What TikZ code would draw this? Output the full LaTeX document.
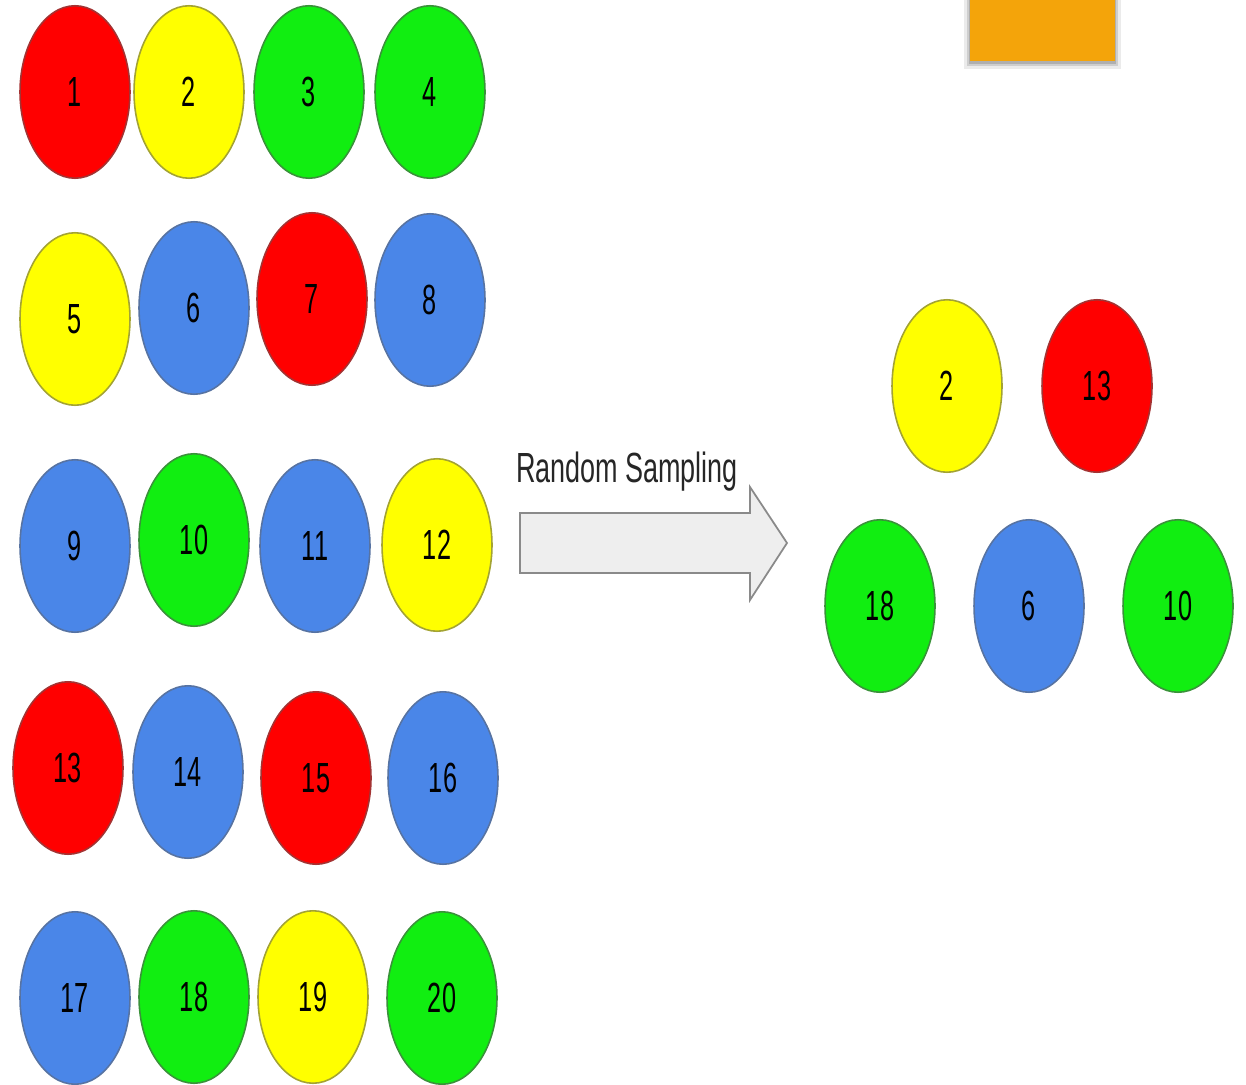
\documentclass[tikz,border=0pt]{standalone}
\usepackage{fontspec}
\setmainfont{Liberation Sans}
\usetikzlibrary{shapes.geometric, shadows}
\definecolor{ballred}{HTML}{FF0000}
\definecolor{ballyellow}{HTML}{FFFF00}
\definecolor{ballgreen}{HTML}{11EE11}
\definecolor{ballblue}{HTML}{4A86E8}
\definecolor{boxorange}{HTML}{F4A40A}
\definecolor{arrowfill}{HTML}{EEEEEE}
\definecolor{arrowstroke}{HTML}{8A8A8A}
\newcommand{\bn}[1]{\scalebox{0.6}[1]{#1}}

\begin{document}
\begin{tikzpicture}[
    x=0.02cm, y=-0.02cm,
    every node/.style={font=\fontsize{24}{24}\selectfont},
    ball/.style={ellipse, minimum width=2.2cm, minimum height=3.45cm, inner sep=0pt, line width=0.9pt},
    red/.style={ball, fill=ballred, draw=ballred!55!black!80},
    yel/.style={ball, fill=ballyellow, draw=ballyellow!55!black!80},
    grn/.style={ball, fill=ballgreen, draw=ballgreen!50!black!80},
    blu/.style={ball, fill=ballblue, draw=ballblue!60!black!80},
    bigarrow/.style={fill=arrowfill, draw=arrowstroke, line width=1pt, line join=miter}
]
\useasboundingbox (0,0) rectangle (1246,1084);

% Population, row 1
\node[red] (p1) at (75, 92) {\bn{1}};
\node[yel] (p2) at (189, 92) {\bn{2}};
\node[grn] (p3) at (309, 92) {\bn{3}};
\node[grn] (p4) at (430, 92) {\bn{4}};

% Population, row 2
\node[yel] (p5) at (75, 319) {\bn{5}};
\node[blu] (p6) at (194, 308) {\bn{6}};
\node[red] (p7) at (312, 299) {\bn{7}};
\node[blu] (p8) at (430, 300) {\bn{8}};

% Population, row 3
\node[blu] (p9) at (75, 546) {\bn{9}};
\node[grn] (p10) at (194, 540) {\bn{10}};
\node[blu] (p11) at (315, 546) {\bn{11}};
\node[yel] (p12) at (437, 545) {\bn{12}};

% Population, row 4
\node[red] (p13) at (68, 768) {\bn{13}};
\node[blu] (p14) at (188, 772) {\bn{14}};
\node[red] (p15) at (316, 778) {\bn{15}};
\node[blu] (p16) at (443, 778) {\bn{16}};

% Population, row 5
\node[blu] (p17) at (75, 998) {\bn{17}};
\node[grn] (p18) at (194, 997) {\bn{18}};
\node[yel] (p19) at (313, 997) {\bn{19}};
\node[grn] (p20) at (442, 998) {\bn{20}};

% Sampling arrow
\draw[bigarrow] (520,513) -- (750,513) -- (750,487) -- (787,543) -- (750,600) -- (750,573) -- (520,573) -- cycle;
\node[text=black!85] (label) at (627, 472) {\scalebox{0.64}[1]{Random Sampling}};

% Sample
\node[yel] (s2) at (947, 386) {\bn{2}};
\node[red] (s13) at (1097, 386) {\bn{13}};
\node[grn] (s18) at (880, 606) {\bn{18}};
\node[blu] (s6) at (1029, 606) {\bn{6}};
\node[grn] (s10) at (1178, 606) {\bn{10}};

% Orange box, cut at the top, soft shadow
\fill[black, opacity=0.08] (964,-20) rectangle (1121,69);
\fill[black, opacity=0.12] (967,-20) rectangle (1118,66);
\fill[black, opacity=0.15] (969,-20) rectangle (1116,64);
\fill[boxorange] (970,-20) rectangle (1115,61);

\end{tikzpicture}
\end{document}
